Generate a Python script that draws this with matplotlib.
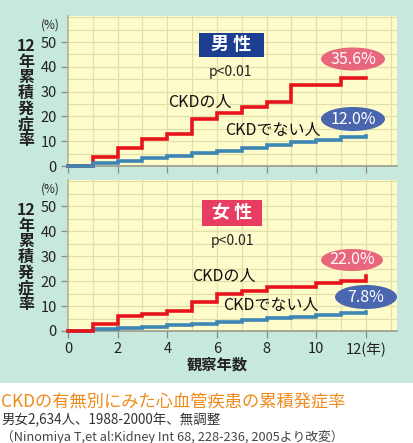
import matplotlib
matplotlib.use("Agg")
import matplotlib.pyplot as plt
from matplotlib.patches import Ellipse, Rectangle
import numpy as np

plt.rcParams['font.family'] = ['Noto Sans CJK JP', 'DejaVu Sans']

years = [0, 1, 2, 3, 4, 5, 6, 7, 8, 9, 10, 11, 12]
male_ckd = [0, 3.8, 7.4, 10.9, 12.8, 19.0, 21.2, 23.6, 25.9, 32.7, 32.7, 35.6, 35.6]
male_non = [0, 1.1, 2.0, 3.1, 4.0, 5.1, 6.2, 7.4, 8.5, 9.5, 10.5, 11.6, 12.0]
female_ckd = [0, 2.8, 6.0, 6.8, 7.9, 11.5, 14.8, 16.1, 17.5, 17.5, 19.1, 20.0, 22.0]
female_non = [0, 0.7, 1.2, 1.7, 2.3, 2.8, 3.7, 4.4, 5.1, 5.7, 6.4, 7.1, 7.8]
panels = ["男 性", "女 性"]
end_labels_male = ["35.6%", "12.0%"]
end_labels_female = ["22.0%", "7.8%"]
xtick_labels = ["0", "2", "4", "6", "8", "10", "12(年)"]
yticks = [0, 10, 20, 30, 40, 50]

W, H = 413, 443
fig = plt.figure(figsize=(W / 100, H / 100), dpi=100)
fig.patch.set_facecolor('white')

MINT = '#c7e8dc'
YELLOW = '#fefccb'
GRID = '#e2dea8'
RED = '#e8141c'
BLUE = '#3d86b5'

# mint background
fig.add_artist(Rectangle((0, 1 - 383 / H), 1, 383 / H, transform=fig.transFigure,
                         facecolor=MINT, edgecolor='none', zorder=0))


def px(x, y):
    return x / W, 1 - y / H


def step_xy(xs, ys):
    sx, sy = [], []
    for i in range(len(xs) - 1):
        sx += [xs[i], xs[i + 1]]
        sy += [ys[i], ys[i]]
    sx.append(xs[-1])
    sy.append(ys[-1])
    return sx, sy


def make_ax(bottom_px, top_px, show_labels):
    l = 68 / W
    w = (397 - 68) / W
    b = 1 - bottom_px / H
    h = (bottom_px - top_px) / H
    ax = fig.add_axes([l, b, w, h])
    ax.set_facecolor(YELLOW)
    ax.set_xlim(0, 13.25)
    ax.set_ylim(0, 60.5)
    for v in range(1, 14):
        ax.axvline(v, color=GRID, lw=0.9, zorder=1)
    for v in range(5, 61, 5):
        ax.axhline(v, color=GRID, lw=0.9, zorder=1)
    for s in ['top', 'right']:
        ax.spines[s].set_visible(False)
    ax.spines['left'].set_color('#b8b48a')
    ax.spines['bottom'].set_color('#9a9a8a')
    ax.spines['left'].set_linewidth(1.2)
    ax.spines['bottom'].set_linewidth(1.2)
    ax.set_yticks(yticks)
    ax.set_yticklabels([str(v) for v in yticks], fontsize=10.5, color='#222222')
    ax.set_xticks(range(0, 13, 2))
    if show_labels:
        ax.set_xticklabels(xtick_labels, fontsize=10.5, color='#222222')
    else:
        ax.set_xticklabels([])
    ax.tick_params(axis='both', direction='out', length=5, color='#8a8a80', width=0.9, pad=3)
    return ax


# top panel
ax1 = make_ax(166, 16, False)
sx, sy = step_xy(years, male_ckd)
ax1.plot(sx, sy, color=RED, lw=2.6, zorder=3, clip_on=False, solid_joinstyle='miter')
sx, sy = step_xy(years, male_non)
ax1.plot(sx, sy, color=BLUE, lw=2.6, zorder=4, clip_on=False, solid_joinstyle='miter')

# bottom panel
ax2 = make_ax(331, 180, True)
sx, sy = step_xy(years, female_ckd)
ax2.plot(sx, sy, color=RED, lw=2.6, zorder=4, clip_on=False, solid_joinstyle='miter')
sx, sy = step_xy(years, female_non)
ax2.plot(sx, sy, color=BLUE, lw=2.6, zorder=3, clip_on=False, solid_joinstyle='miter')

# y-axis labels
for ytop in (38, 202):
    fig.text(*px(26, ytop), "12\n年\n累\n積\n発\n症\n率", ha='center', va='top',
             fontsize=11.5, fontweight='bold', color='#222222', linespacing=0.98)
    fig.text(*px(50, ytop - 13), "(%)", ha='center', va='center', fontsize=8.5, color='#222222')


def badge(cx, cy, w, h, color, text):
    fig.add_artist(Rectangle(px(cx - w / 2, cy + h / 2), w / W, h / H, transform=fig.transFigure,
                             facecolor=color, edgecolor='none', zorder=5))
    fig.text(*px(cx, cy), text, ha='center', va='center', fontsize=13, fontweight='bold',
             color='white', zorder=6)


badge(231, 45, 65, 24, '#1d3f90', panels[0])
badge(232, 213, 60, 25, '#e83c60', panels[1])

fig.text(*px(231, 72), "p<0.01", ha='center', va='center', fontsize=10, color='#222222')
fig.text(*px(232, 241), "p<0.01", ha='center', va='center', fontsize=10, color='#222222')

fig.text(*px(200, 102), "CKDの人", ha='center', va='center', fontsize=11.5, color='#111111')
fig.text(*px(273, 130), "CKDでない人", ha='center', va='center', fontsize=11.5, color='#111111')
fig.text(*px(224, 276), "CKDの人", ha='center', va='center', fontsize=11.5, color='#111111')
fig.text(*px(271, 305), "CKDでない人", ha='center', va='center', fontsize=11.5, color='#111111')


def oval(cx, cy, w, h, color, text):
    fig.add_artist(Ellipse(px(cx, cy), w / W, h / H, transform=fig.transFigure,
                           facecolor=color, edgecolor='none', zorder=5))
    fig.text(*px(cx, cy), text, ha='center', va='center', fontsize=11.5, color='white',
             zorder=6)


PINK = '#e9677c'
OBLUE = '#4a66ae'
oval(353, 59, 64, 23, PINK, end_labels_male[0])
oval(353, 119, 64, 24, OBLUE, end_labels_male[1])
oval(352, 260, 62, 22, PINK, end_labels_female[0])
oval(366, 297, 62, 24, OBLUE, end_labels_female[1])

fig.text(*px(217, 365), "観察年数", ha='center', va='center', fontsize=11, fontweight='bold',
         color='#222222')

# caption
fig.text(*px(1, 402), "CKDの有無別にみた心血管疾患の累積発症率", ha='left', va='center',
         fontsize=12.4, color='#f08a1a')
fig.text(*px(1, 420), "男女2,634人、1988-2000年、無調整", ha='left', va='center',
         fontsize=9.7, color='#333333')
fig.text(*px(1, 437), "（Ninomiya T,et al:Kidney Int 68, 228-236, 2005より改変）", ha='left',
         va='center', fontsize=9.2, color='#444444')

fig.savefig("out.png", dpi=100, facecolor=fig.get_facecolor())
